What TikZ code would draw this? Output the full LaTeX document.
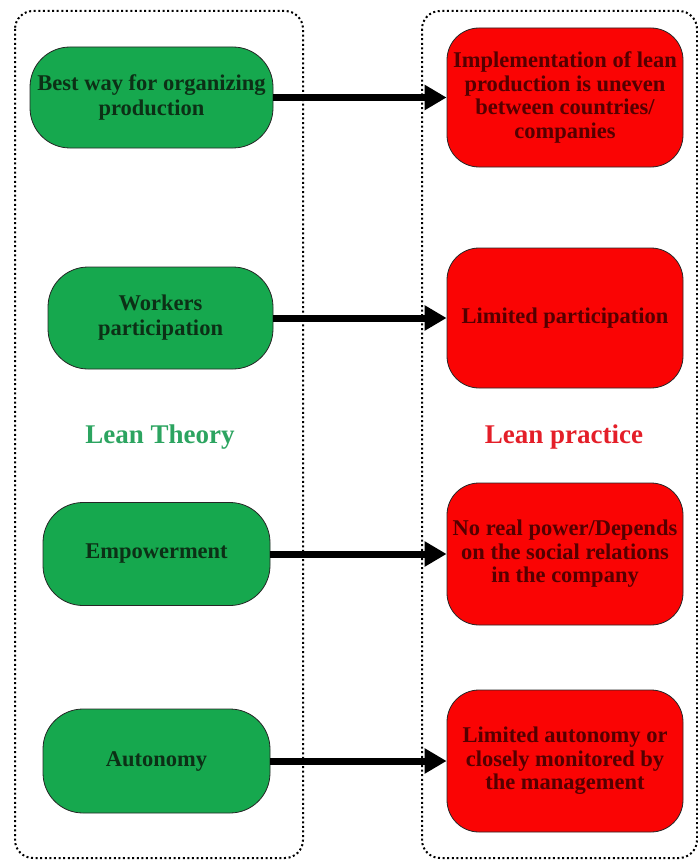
\documentclass[tikz,border=0pt]{standalone}
\usepackage{fontspec}
\setmainfont{Liberation Serif}
\usetikzlibrary{arrows.meta}

\definecolor{theoryfill}{RGB}{22,168,78}
\definecolor{theoryink}{RGB}{12,48,22}
\definecolor{theorytitle}{RGB}{44,164,96}
\definecolor{practicefill}{RGB}{250,4,4}
\definecolor{practiceink}{RGB}{84,0,0}
\definecolor{practicetitle}{RGB}{228,30,40}

\begin{document}
\begin{tikzpicture}[x=1pt,y=-1pt,
  theory/.style={draw=black!85,line width=.8pt,fill=theoryfill,rounded corners=40pt,
    inner sep=0pt,align=center,text=theoryink,font=\bfseries\fontsize{22.5}{25}\selectfont},
  practice/.style={draw=black!85,line width=.8pt,fill=practicefill,rounded corners=32pt,
    inner sep=0pt,align=center,text=practiceink,font=\bfseries\fontsize{22.5}{23.5}\selectfont,
    minimum width=236pt},
  frame/.style={draw,line width=2pt,dash pattern=on 2pt off 2.6pt,rounded corners=18pt},
  title/.style={font=\bfseries\fontsize{27}{30}\selectfont},
  link/.style={-{Triangle[length=22pt,width=24pt]},line width=7pt}]

\useasboundingbox (0,0) rectangle (698,864);

% the two dotted frames
\draw[frame] (15,11) rectangle (303,858);
\draw[frame] (422,11) rectangle (697,858);

% lean theory
\node[theory,minimum width=243pt,minimum height=101pt] (g1) at (151.5,97.5) {Best way for organizing\\production};
\node[theory,minimum width=225pt,minimum height=102pt] (g2) at (160.5,318) {Workers\\participation};
\node[theory,minimum width=227pt,minimum height=103pt] (g3) at (156.5,554) {Empowerment};
\node[theory,minimum width=227pt,minimum height=104pt] (g4) at (156.5,761) {Autonomy};
\node[title,text=theorytitle] (lt) at (160,437) {Lean Theory};

% lean practice
\node[practice,minimum height=139pt] (r1) at (565,97.5) {Implementation of lean\\production is uneven\\between countries/\\companies};
\node[practice,minimum height=140pt] (r2) at (565,318) {Limited participation};
\node[practice,minimum height=142pt] (r3) at (565,554) {No real power/Depends\\on the social relations\\in the company};
\node[practice,minimum height=142pt] (r4) at (565,761) {Limited autonomy or\\closely monitored by\\the management};
\node[title,text=practicetitle] (lp) at (564,437) {Lean practice};

\draw[link] (g1.east) -- (r1.west);
\draw[link] (g2.east) -- (r2.west);
\draw[link] (g3.east) -- (r3.west);
\draw[link] (g4.east) -- (r4.west);

\end{tikzpicture}
\end{document}
